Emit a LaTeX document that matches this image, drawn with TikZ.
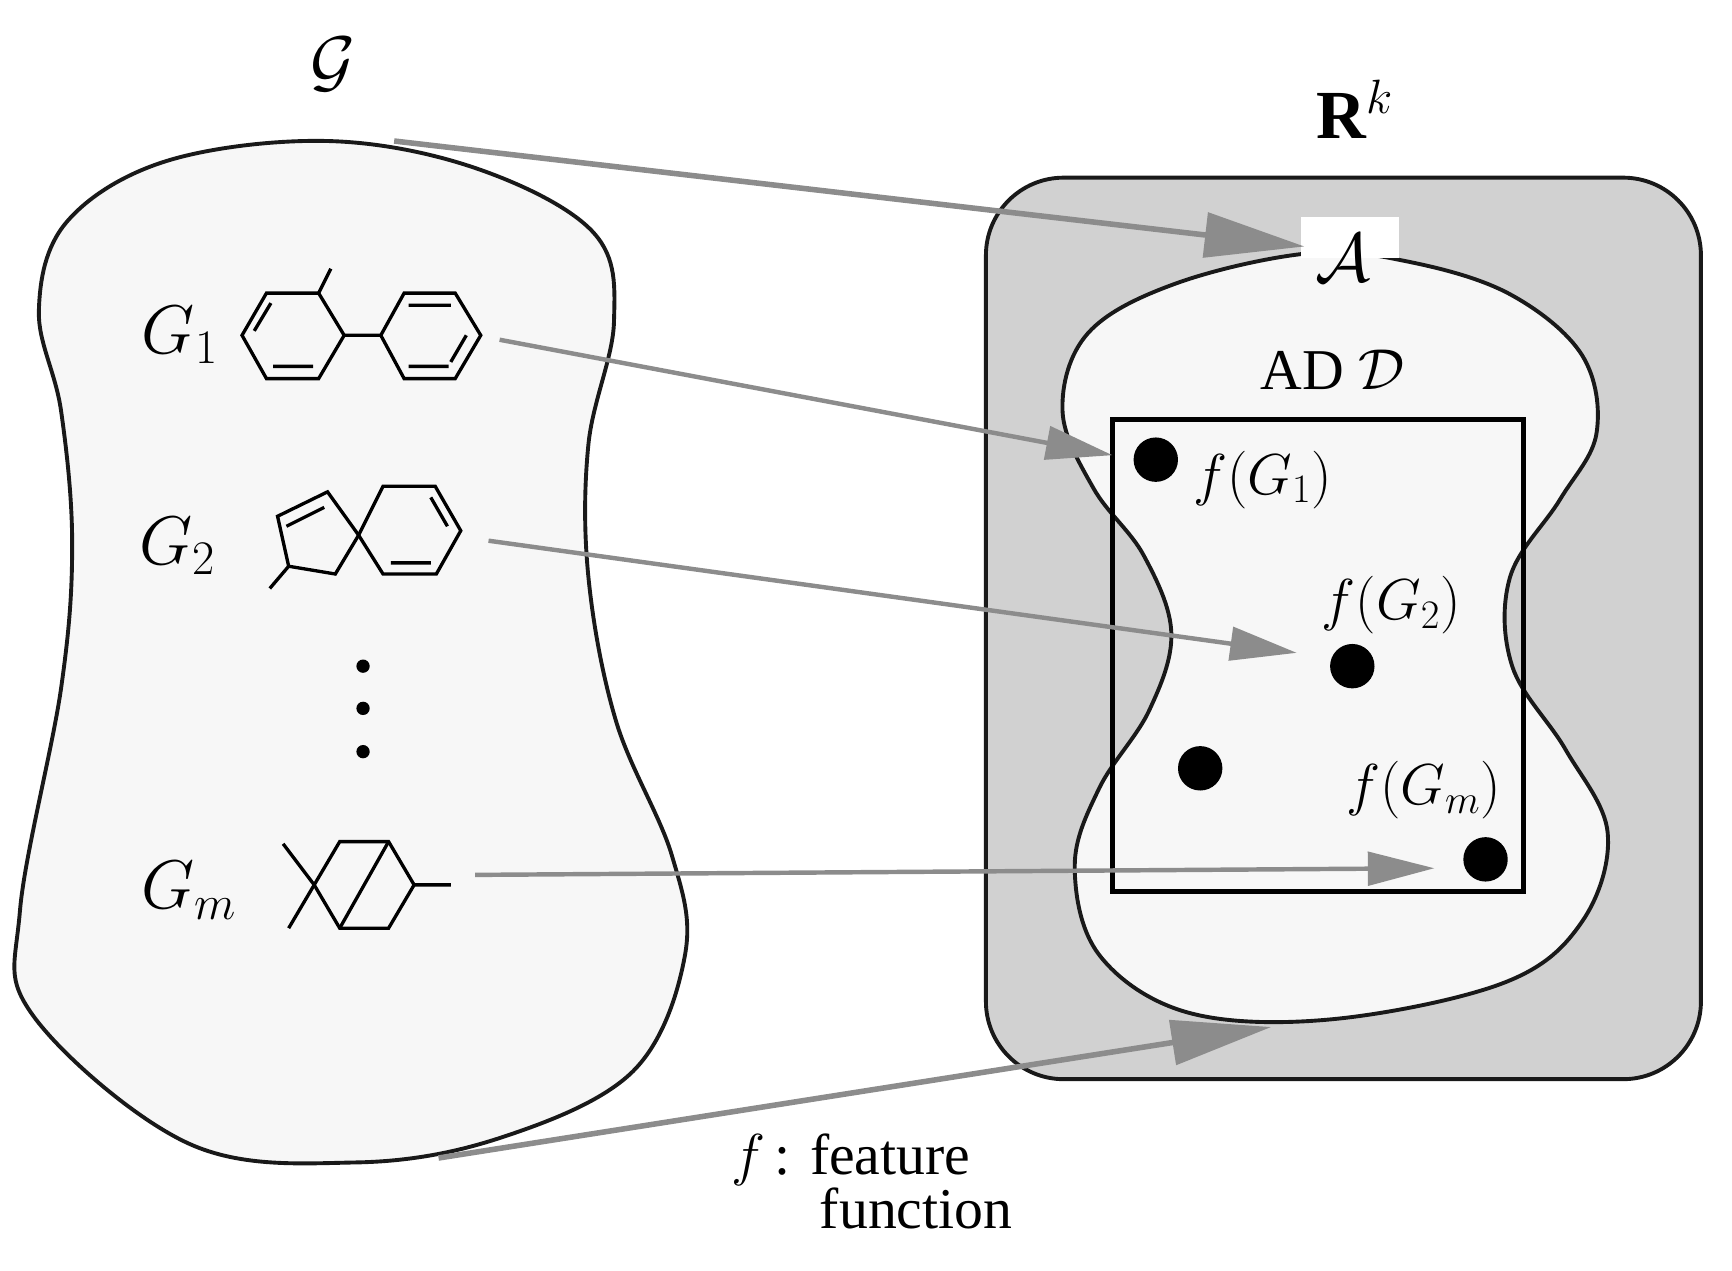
\documentclass[tikz,border=0pt]{standalone}
\usepackage{fix-cm}
\usepackage{amsmath,amssymb}
\usepackage{fontspec}
\setmainfont{Liberation Serif}
\usetikzlibrary{arrows.meta}
\begin{document}
\begin{tikzpicture}[x=1pt,y=-1pt,
  blob/.style={line width=3.5pt,draw=black!90},
  arr/.style={draw=black!45,line width=5pt,-{Triangle[length=90pt,width=40pt]}},
  arrs/.style={draw=black!45,line width=4pt,-{Triangle[length=60pt,width=30pt]}},
  mol/.style={line width=3pt},
  dot/.style={circle,fill=black,minimum width=40pt,minimum height=36pt,inner sep=0pt},
  big/.style={font=\fontsize{62}{70}\selectfont},
  mid/.style={font=\fontsize{52}{60}\selectfont}]
\useasboundingbox (0,0) rectangle (1560,1144);
% left blob
\draw[blob,fill=black!3] plot[smooth cycle,tension=0.6] coordinates{(295,127)(430,152)(535,210)(553,290)(530,400)(530,520)(555,650)(605,770)(617,860)(570,965)(450,1025)(320,1047)(170,1030)(30,915)(18,820)(55,620)(65,490)(55,370)(35,280)(60,200)(150,145)};
% right region
\draw[blob,fill=black!18,rounded corners=70pt] (888,160) rectangle (1532,972);
\draw[blob,fill=black!3] plot[smooth cycle,tension=0.6] coordinates{(1180,228)(1270,236)(1360,265)(1425,320)(1438,390)(1405,450)(1360,520)(1362,600)(1410,675)(1448,750)(1425,830)(1355,885)(1200,918)(1070,912)(990,860)(968,780)(990,710)(1035,640)(1055,570)(1030,500)(985,440)(957,370)(980,300)(1060,255)};
\fill[white] (1172,195) rectangle (1260,232);
\node[big] (A) at (1210,232) {$\mathcal{A}$};
\draw[line width=5pt] (1002,378) rectangle (1372,803);
\node[mid] (AD) at (1200,333) {AD $\mathcal{D}$};
\node[big] (Rk) at (1220,98) {$\mathbf{R}^{k}$};
\node[big] (Gs) at (300,58) {$\mathcal{G}$};
\node[dot] (d1) at (1041,414) {};
\node[dot] (d2) at (1218,600) {};
\node[dot] (d3) at (1081,692) {};
\node[dot] (dm) at (1338,774) {};
\node[mid] (f1) at (1137,432) {$f(G_1)$};
\node[mid] (f2) at (1253,545) {$f(G_2)$};
\node[mid] (fm) at (1282,712) {$f(G_m)$};
\node[big] (G1) at (162,302) {$G_1$};
\node[big] (G2) at (160,492) {$G_2$};
\node[big] (Gm) at (170,802) {$G_m$};
\foreach \y in {600,638,677} \fill (327,\y) circle (6pt);
% molecules
\draw[mol] (240,264)--(287,264)--(310,302)--(287,341)--(240,341)--(218,302)--cycle;
\draw[mol] (287,264)--(298,242) (310,302)--(343,302);
\draw[mol] (364,264)--(410,264)--(433,302)--(410,341)--(364,341)--(343,302)--cycle;
\draw[mol] (229,298)--(244,273) (246,330)--(282,330) (368,275)--(406,275) (420,302)--(406,326) (368,330)--(404,330);
\draw[mol] (250,465)--(295,443)--(323,482)--(302,517)--(260,510)--cycle;
\draw[mol] (258,474)--(292,457) (260,510)--(243,530);
\draw[mol] (323,482)--(345,438)--(392,438)--(415,478)--(393,517)--(345,517)--cycle;
\draw[mol] (388,448)--(403,474) (352,507)--(388,507);
\draw[mol] (255,760)--(283,797)--(260,836);
\draw[mol] (283,797)--(306,758)--(350,758)--(373,797)--(350,836)--(306,836)--cycle;
\draw[mol] (306,836)--(350,758) (373,797)--(406,797);
% arrows
\coordinate (s0) at (355,127); \coordinate (e0) at (1175,222);
\coordinate (s1) at (450,306); \coordinate (e1) at (1002,410);
\coordinate (s2) at (440,487); \coordinate (e2) at (1168,588);
\coordinate (sm) at (428,788); \coordinate (em) at (1292,782);
\coordinate (sf) at (395,1043); \coordinate (ef) at (1145,925);
\draw[arr] (s0)--(e0);
\draw[arrs] (s1)--(e1);
\draw[arrs] (s2)--(e2);
\draw[arrs] (sm)--(em);
\draw[arr] (sf)--(ef);
\node[mid,align=left,anchor=north west] (ft) at (655,1018) {$f$\,: feature\\[-12pt]\hspace*{80pt}function};
\end{tikzpicture}
\end{document}
